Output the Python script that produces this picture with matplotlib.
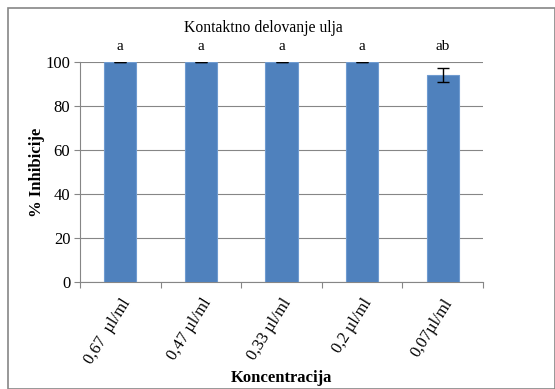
import matplotlib
matplotlib.use("Agg")
import matplotlib.pyplot as plt
from matplotlib.patches import Rectangle
from matplotlib.transforms import ScaledTranslation

categories = ["0,67  µl/ml", "0,47 µl/ml", "0,33 µl/ml", "0,2 µl/ml", "0,07µl/ml"]
values = [100, 100, 100, 100, 94]
errors = [0, 0, 0, 0, 3.3]
letters = ["a", "a", "a", "a", "ab"]
yticks = [0, 20, 40, 60, 80, 100]

plt.rcParams['font.family'] = ['Liberation Serif', 'DejaVu Serif']

fig = plt.figure(figsize=(5.55, 3.89), dpi=100)
fig.patches.append(Rectangle((8/555, 0), 1 - 8/555 - 0.5/555, 1 - 8/389, transform=fig.transFigure,
                             fill=False, edgecolor='#868686', linewidth=1.2))
ax = fig.add_axes([80/555, 107/389, 403/555, 220/389])
x = range(len(categories))
ax.bar(x, values, width=0.4, color='#4F81BD', edgecolor='#6F9BD0', linewidth=0.8, zorder=3)
ax.errorbar(x, values, yerr=errors, fmt='none', ecolor='black', elinewidth=1, capsize=4, capthick=1, zorder=4)
for i, (v, l) in enumerate(zip(values, letters)):
    ax.text(i, 104, l, ha='center', va='bottom', fontsize=11, clip_on=False)

ax.set_xlim(-0.5, len(categories) - 0.5)
ax.set_ylim(0, 100)
ax.set_yticks(yticks)
ax.yaxis.grid(True, color='#868686', linewidth=0.8, zorder=0)
ax.set_xticks([i + 0.5 for i in range(-1, len(categories))], minor=False)
ax.set_xticklabels([])
ax.set_xticks(list(x), minor=True)
ax.set_xticklabels(categories, minor=True, rotation=58, ha='right', va='top', rotation_mode='anchor', fontsize=12)
offset = ScaledTranslation(7/100, 0, fig.dpi_scale_trans)
for lab in ax.get_xticklabels(minor=True):
    lab.set_transform(lab.get_transform() + offset)
ax.tick_params(axis='x', which='minor', length=0, pad=10)
ax.tick_params(axis='x', which='major', length=4, color='#868686', direction='out')
ax.tick_params(axis='y', length=4, color='#868686', labelsize=12, pad=3)
for s in ['top', 'right']:
    ax.spines[s].set_visible(False)
ax.spines['left'].set_color('#868686')
ax.spines['bottom'].set_color('#868686')
ax.set_ylabel('% Inhibicije', fontsize=12, fontweight='bold', labelpad=0)
ax.set_xlabel('Koncentracija', fontsize=12, fontweight='bold', labelpad=2)
fig.text(263/555, 1 - 28/389, 'Kontaktno delovanje ulja', ha='center', va='center', fontsize=11.3)

fig.savefig('out.png', dpi=100)
